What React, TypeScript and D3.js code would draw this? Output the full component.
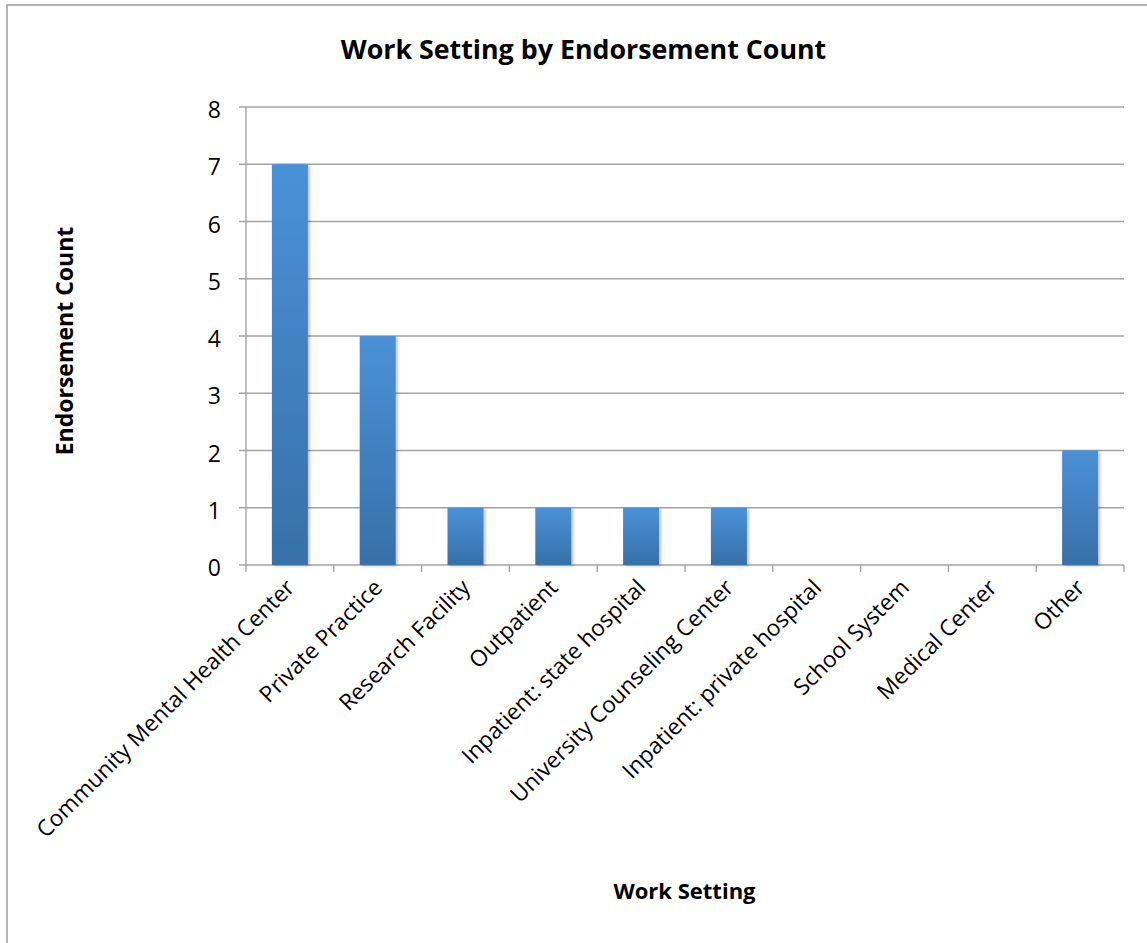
import React from "react";
import * as d3 from "d3";

const categories = [
  "Community Mental Health Center",
  "Private Practice",
  "Research Facility",
  "Outpatient",
  "Inpatient: state hospital",
  "University Counseling Center",
  "Inpatient: private hospital",
  "School System",
  "Medical Center",
  "Other",
];
const counts = [7, 4, 1, 1, 1, 1, 0, 0, 0, 2];
const yTicks = [0, 1, 2, 3, 4, 5, 6, 7, 8];
const title = "Work Setting by Endorsement Count";
const xTitle = "Work Setting";
const yTitle = "Endorsement Count";

const W = 1147;
const H = 943;
const plot = { left: 246, right: 1124, top: 107, bottom: 565 };
const FONT = "'Open Sans', Lato, sans-serif";

export default function App() {
  const x = d3
    .scaleBand<string>()
    .domain(categories)
    .range([plot.left, plot.right])
    .paddingInner(0)
    .paddingOuter(0);
  const y = d3.scaleLinear().domain([0, 8]).range([plot.bottom, plot.top]);
  const bw = x.bandwidth() * 0.41;
  const bounds = [...categories.map((c) => x(c) as number), plot.right];
  const grid = "#a3a3a3";

  return (
    <svg
      width={W}
      height={H}
      style={{ position: "absolute", left: 0, top: 0, display: "block" }}
      fontFamily={FONT}
    >
      <defs>
        <linearGradient id="barGrad" x1="0" y1="0" x2="0" y2="1">
          <stop offset="0%" stopColor="#4a91d8" />
          <stop offset="100%" stopColor="#3870a8" />
        </linearGradient>
        <filter id="shadow" x="-20%" y="-20%" width="150%" height="140%">
          <feDropShadow dx="2" dy="1" stdDeviation="1.5" floodColor="#000" floodOpacity="0.25" />
        </filter>
      </defs>
      <rect x={0} y={0} width={W} height={H} fill="#fff" />
      <rect x={7} y={5} width={W} height={H} fill="none" stroke="#9a9a9a" strokeWidth={1.5} />

      <text x={583.5} y={59} textAnchor="middle" fontWeight="bold" fontSize={26.8} fill="#000">
        {title}
      </text>

      {/* gridlines */}
      {yTicks.map((t) => (
        <line
          key={"g" + t}
          x1={plot.left - 7}
          x2={plot.right}
          y1={y(t)}
          y2={y(t)}
          stroke={grid}
          strokeWidth={1.4}
        />
      ))}
      {/* y axis line */}
      <line x1={plot.left} x2={plot.left} y1={plot.top} y2={plot.bottom} stroke={grid} strokeWidth={1.4} />
      {/* x ticks */}
      {bounds.map((b, i) => (
        <line key={"xt" + i} x1={b} x2={b} y1={plot.bottom} y2={plot.bottom + 7} stroke={grid} strokeWidth={1.4} />
      ))}

      {/* y tick labels */}
      {yTicks.map((t) => (
        <text key={"yl" + t} x={221} y={y(t) + 11} textAnchor="end" fontSize={23} fill="#000">
          {t}
        </text>
      ))}

      {/* bars */}
      {categories.map((c, i) =>
        counts[i] > 0 ? (
          <rect
            key={"b" + c}
            x={(x(c) as number) + x.bandwidth() / 2 - bw / 2}
            y={y(counts[i])}
            width={bw}
            height={y(0) - y(counts[i])}
            fill="url(#barGrad)"
            filter="url(#shadow)"
          />
        ) : null
      )}

      {/* x labels */}
      {categories.map((c) => {
        const cx = (x(c) as number) + x.bandwidth() / 2 + 6;
        const cy = plot.bottom + 24;
        return (
          <text
            key={"xl" + c}
            x={cx}
            y={cy}
            textAnchor="end"
            fontSize={22.6}
            fill="#000"
            transform={`rotate(-45 ${cx} ${cy})`}
          >
            {c}
          </text>
        );
      })}

      {/* axis titles */}
      <text x={684.5} y={899} textAnchor="middle" fontWeight="bold" fontSize={22} fill="#000">
        {xTitle}
      </text>
      <text
        x={0}
        y={0}
        transform={`translate(73 341) rotate(-90)`}
        textAnchor="middle"
        fontWeight="bold"
        fontSize={23}
        fill="#000"
      >
        {yTitle}
      </text>
    </svg>
  );
}
